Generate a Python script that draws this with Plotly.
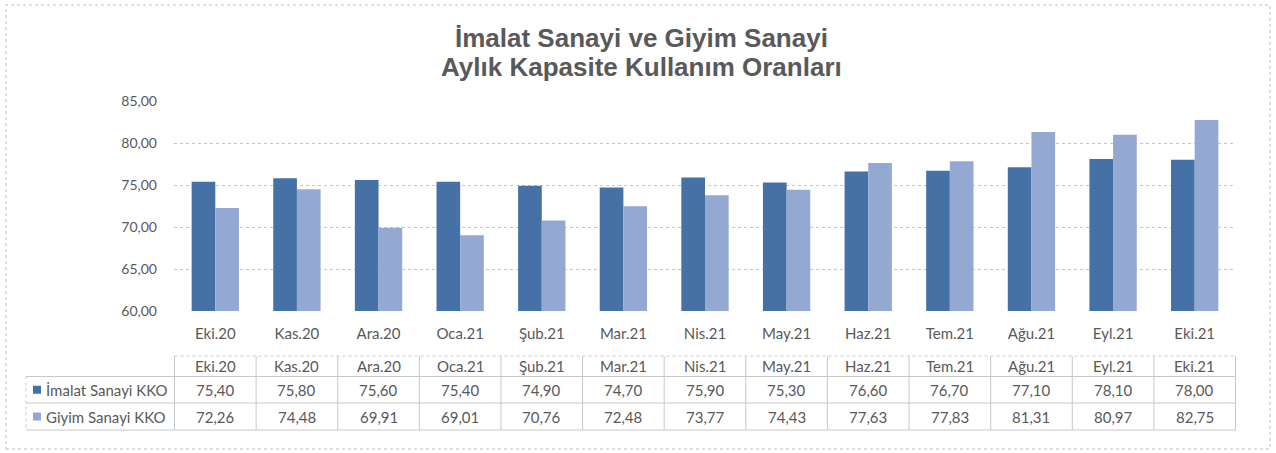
import plotly.graph_objects as go

categories = ["Eki.20", "Kas.20", "Ara.20", "Oca.21", "Şub.21", "Mar.21", "Nis.21",
              "May.21", "Haz.21", "Tem.21", "Ağu.21", "Eyl.21", "Eki.21"]
imalat = [75.40, 75.80, 75.60, 75.40, 74.90, 74.70, 75.90, 75.30, 76.60, 76.70, 77.10, 78.10, 78.00]
giyim = [72.26, 74.48, 69.91, 69.01, 70.76, 72.48, 73.77, 74.43, 77.63, 77.83, 81.31, 80.97, 82.75]
series_names = ["İmalat Sanayi KKO", "Giyim Sanayi KKO"]
title_lines = ["İmalat Sanayi ve Giyim Sanayi", "Aylık Kapasite Kullanım Oranları"]
colors = ["#4571A6", "#94A9D2"]

W, H = 1276, 453
L, R, T, B = 174, 1236, 101, 311

def py(p):
    return (B - p) / (B - T)

def px(p):
    return (p - L) / (R - L)

fig = go.Figure()
for name, vals, c in zip(series_names, [imalat, giyim], colors):
    fig.add_trace(go.Bar(x=categories, y=vals, name=name, marker_color=c,
                         marker_line_width=0, hoverinfo="x+y+name"))

font_c = "#595959"
fam = "Lato, Noto Sans, sans-serif"
txt_font = dict(family=fam, size=15, color=font_c)
tick_font = dict(family=fam, size=14, color=font_c)

shapes = []
annotations = []
line_c = "#C8C8C8"
n = len(categories)
y_top, y_h, y_r1, y_r2 = 356, 376.5, 403, 430
shapes.append(dict(type="line", xref="x", yref="paper", x0=-0.5, x1=n - 0.5,
                   y0=py(y_top), y1=py(y_top), line=dict(color=line_c, width=1, dash="dot")))
for yy in [y_h, y_r1, y_r2]:
    shapes.append(dict(type="line", xref="paper", yref="paper", x0=px(26), x1=1,
                       y0=py(yy), y1=py(yy), line=dict(color=line_c, width=1)))
for i in range(n + 1):
    shapes.append(dict(type="line", xref="x", yref="paper", x0=i - 0.5, x1=i - 0.5,
                       y0=py(y_top), y1=py(y_r2), line=dict(color=line_c, width=1)))
shapes.append(dict(type="line", xref="paper", yref="paper", x0=px(26), x1=px(26),
                   y0=py(y_h), y1=py(y_r2), line=dict(color=line_c, width=1, dash="dot")))
shapes.append(dict(type="rect", xref="paper", yref="paper", x0=px(6), x1=px(1270),
                   y0=py(449), y1=py(5), line=dict(color="#BFBFBF", width=1, dash="dot")))

row_y = [(y_top + y_h) / 2, (y_h + y_r1) / 2, (y_r1 + y_r2) / 2]
for i, cat in enumerate(categories):
    annotations.append(dict(xref="x", yref="paper", x=cat, y=py(row_y[0]), text=cat,
                            showarrow=False, font=txt_font, yanchor="middle"))
    for r, vals in enumerate([imalat, giyim]):
        annotations.append(dict(xref="x", yref="paper", x=cat, y=py(row_y[r + 1]),
                                text=f"{vals[i]:.2f}".replace(".", ","), showarrow=False,
                                font=txt_font, yanchor="middle"))
for r, (name, c) in enumerate(zip(series_names, colors)):
    yc = row_y[r + 1]
    shapes.append(dict(type="rect", xref="paper", yref="paper", x0=px(33), x1=px(41),
                       y0=py(yc + 4), y1=py(yc - 4), fillcolor=c, line=dict(width=0)))
    annotations.append(dict(xref="paper", yref="paper", x=px(44), y=py(yc), text=name,
                            showarrow=False, font=txt_font, xanchor="left", yanchor="middle"))

title_font = dict(family="Liberation Sans, Arial, sans-serif", size=26, color=font_c)
for line, yc in zip(title_lines, [38, 67]):
    annotations.append(dict(xref="paper", yref="paper", x=px(641), y=py(yc),
                            text=f"<b>{line}</b>", showarrow=False, font=title_font,
                            xanchor="center", yanchor="middle"))

fig.update_layout(
    width=W, height=H,
    margin=dict(l=L, r=W - R, t=T, b=H - B, pad=0),
    paper_bgcolor="white", plot_bgcolor="white",
    separators=",.",
    barmode="group", bargap=0.42, bargroupgap=0,
    showlegend=False,
    xaxis=dict(showgrid=False, showline=False, ticks="", tickfont=txt_font,
               ticklabelstandoff=12, fixedrange=True),
    yaxis=dict(range=[60, 85], dtick=5, tickformat=".2f", showgrid=True,
               gridcolor="#C4C4C4", gridwidth=1, griddash="dot", zeroline=False,
               showline=False, tickfont=tick_font, ticklabelstandoff=16, fixedrange=True),
    shapes=shapes, annotations=annotations,
    font=txt_font,
)

fig.write_html("out.html", config={"displayModeBar": False},
               post_script="document.body.style.margin='0px';")
